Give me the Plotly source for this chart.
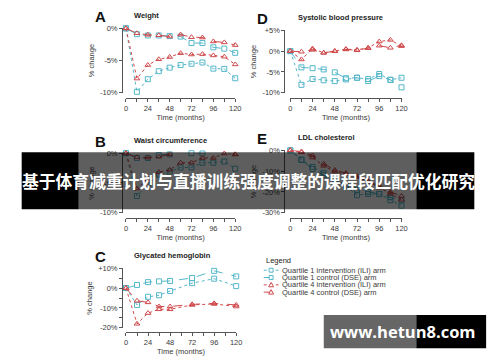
import plotly.graph_objects as go

W, H = 500, 362

# ---------------- data ----------------
months = [0, 12, 24, 36, 48, 60, 72, 84, 96, 108, 120]
months_c = [0, 12, 24, 36, 48, 72, 96, 120]

# A: Weight
w_q1_ili = [0, -9.85, -7.9, -6.65, -6.1, -5.7, -5.5, -5.3, -6.25, -6.3, -7.75]
w_q1_dse = [0, -0.9, -1.1, -1.1, -1.2, -1.27, -2.28, -2.28, -2.94, -3.15, -3.8]
w_q4_ili = [0, -7.8, -5.7, -4.8, -4.45, -3.86, -4.06, -4.0, -4.2, -4.4, -5.6]
w_q4_dse = [0, -0.76, -1.0, -1.07, -1.27, -0.96, -1.37, -1.42, -2.03, -2.18, -2.6]

# B: Waist circumference
b_q1_ili = [0, -7.2, -5.3, -3.6, -3.1, -2.4, -2.4, -1.6, -1.6, -1.4, -2.6]
b_q1_dse = [0, -0.8, -0.8, -0.3, -0.2, 0.1, 0.0, -0.05, 0.05, 0.4, 0.65]
b_q4_ili = [0, -5.95, -4.4, -3.2, -2.8, -1.6, -1.6, -0.8, -0.8, -0.05, -0.2]
b_q4_dse = [0, -0.7, -0.75, -0.6, -0.2, 0.55, 0.2, 0.9, 0.45, 0.9, -0.2]

# C: Glycated hemoglobin
c_q1_ili = [0, -8.5, -4.4, -3.6, -1.5, 2.5, 4.75, 1.0]
c_q1_dse = [0, 1.6, 3.0, 3.4, 3.6, 5.1, 8.7, 5.9]
c_q4_ili = [0, -18.0, -12.6, -10.7, -10.7, -8.5, -8.0, -9.3]
c_q4_dse = [0, -6.4, -7.2, -9.3, -9.3, -8.2, -7.7, -8.5]

# D: Systolic blood pressure
d_q1_ili = [0, -8.1, -6.7, -7.0, -7.2, -6.8, -6.4, -6.7, -5.5, -6.9, -6.4]
d_q1_dse = [0, -3.9, -4.1, -4.4, -5.1, -6.5, -6.4, -7.2, -6.0, -6.9, -8.7]
d_q4_ili = [0, -2.0, 0.6, -0.4, 0.0, 0.5, 0.3, 0.8, 2.3, 2.7, 1.2]
d_q4_dse = [0, -0.15, 0.3, -0.4, 0.0, 0.4, 0.2, 0.7, 1.3, 0.8, 1.4]

# E: LDL cholesterol
e_q1_ili = [0, -4.5, -8.0, -11.0, -13.5, -17.0, -21.6, -21.0, -21.1, -24.0, -26.6]
e_q1_dse = [0, -4.7, -9.0, -12.0, -14.0, -17.0, -19.0, -20.0, -21.0, -22.5, -24.0]
e_q4_ili = [0, -1.0, -3.5, -7.5, -10.3, -11.5, -12.8, -15.0, -18.0, -21.0, -23.8]
e_q4_dse = [0, -0.6, -2.5, -6.5, -9.5, -11.0, -12.5, -15.0, -17.0, -20.0, -22.0]

x_tickvals = [0, 12, 24, 36, 48, 60, 72, 84, 96, 108, 120]
x_ticktext = ["0", "", "24", "", "48", "", "72", "", "96", "", "120"]

series_names = ["Quartile 1 intervention (ILI) arm", "Quartile 1 control (DSE) arm",
                "Quartile 4 intervention (ILI) arm", "Quartile 4 control (DSE) arm"]

CYAN = "#55b7c9"
RED = "#d0494c"
FONT = "Liberation Sans, Arial, sans-serif"
TXT = "#3a3a3a"

def px(x):
    return x / W

def py(y):
    return 1 - y / H

panels = [
    dict(title="Weight", letter="A", xd=(126, 237), yd=(25, 91), yr=(-10, 0), xl=96, yl=122,
         tv=[0, -5, -10], tt=["0%", "-5%", "-10%"], x=months,
         s=[w_q1_ili, w_q1_dse, w_q4_ili, w_q4_dse], tx=132, dim=False),
    dict(title="Systolic blood pressure", letter="D", xd=(293, 406), yd=(27, 91), yr=(-10, 5), xl=96, yl=287,
         tv=[5, 0, -5, -10], tt=["+5%", "0%", "-5%", "-10%"], x=months,
         s=[d_q1_ili, d_q1_dse, d_q4_ili, d_q4_dse], tx=299, dim=False),
    dict(title="Waist circumference", letter="B", xd=(126, 237), yd=(153, 214), yr=(-10, 0), xl=219, yl=122,
         tv=[0, -5, -10], tt=["0%", "-5%", "-10%"], x=months,
         s=[b_q1_ili, b_q1_dse, b_q4_ili, b_q4_dse], tx=132, dim=True),
    dict(title="LDL cholesterol", letter="E", xd=(293, 406), yd=(150, 214), yr=(-30, 0), xl=219, yl=287,
         tv=[0, -10, -20, -30], tt=["0%", "-10%", "-20%", "-30%"], x=months,
         s=[e_q1_ili, e_q1_dse, e_q4_ili, e_q4_dse], tx=299, dim=True),
    dict(title="Glycated hemoglobin", letter="C", xd=(126, 238), yd=(271, 332), yr=(-20, 10), xl=336, yl=122,
         tv=[10, 5, 0, -5, -10, -15, -20], tt=["+10%", "", "0%", "", "-10%", "", "-20%"], x=months_c,
         s=[c_q1_ili, c_q1_dse, c_q4_ili, c_q4_dse], tx=132, dim=False),
]

styles = [
    dict(color=CYAN, dash="dot", symbol="square-open"),
    dict(color=CYAN, dash="dash", symbol="square-open"),
    dict(color=RED, dash="dot", symbol="triangle-up-open"),
    dict(color=RED, dash="dash", symbol="triangle-up-open"),
]

fig = go.Figure()
layout = dict(
    width=W, height=H, margin=dict(l=0, r=0, t=0, b=0),
    paper_bgcolor="white", plot_bgcolor="rgba(0,0,0,0)",
    showlegend=False, font=dict(family=FONT, size=7.5, color=TXT),
)
annotations = []
shapes = []

for i, p in enumerate(panels):
    n = "" if i == 0 else str(i + 1)
    xa, ya = "x" + n, "y" + n
    for k, ser in enumerate(p["s"]):
        st = styles[k]
        fig.add_trace(go.Scatter(
            x=p["x"], y=ser, xaxis=xa, yaxis=ya, mode="lines+markers",
            name=series_names[k], cliponaxis=False,
            line=dict(color=st["color"], width=1, dash=st["dash"]),
            marker=dict(symbol=st["symbol"], size=5, color=st["color"],
                        line=dict(width=1, color=st["color"])),
        ))
    layout["xaxis" + n] = dict(
        domain=[px(p["xd"][0]), px(p["xd"][1])], range=[0, 120], anchor="free",
        position=py(p["xl"]), showline=True, linecolor="#555", linewidth=1,
        ticks="outside", ticklen=3, tickcolor="#555", showgrid=False, zeroline=False,
        tickvals=x_tickvals, ticktext=x_ticktext, tickfont=dict(size=7.5, color=TXT),
        title=dict(text="Time (months)", font=dict(size=7.5, color=TXT), standoff=1),
        fixedrange=True,
    )
    layout["yaxis" + n] = dict(
        domain=[py(p["yd"][1]), py(p["yd"][0])], range=list(p["yr"]), anchor="free",
        position=px(p["yl"]), showline=True, linecolor="#555", linewidth=1,
        ticks="outside", ticklen=3, tickcolor="#555", showgrid=False, zeroline=False,
        tickvals=p["tv"], ticktext=p["tt"], tickfont=dict(size=7.5, color=TXT),
        title=dict(text="% change", font=dict(size=7.5, color="#191919" if p["dim"] else TXT), standoff=3),
        fixedrange=True,
    )
    ytitle = p["yd"][0] - 13
    annotations.append(dict(x=px(p["tx"]), y=py(ytitle), xref="paper", yref="paper",
                            text=p["title"], showarrow=False, xanchor="left", yanchor="middle",
                            font=dict(size=7.5, color="#222", family=FONT, weight="bold")))
    annotations.append(dict(x=px(p["yl"] - 30), y=py(ytitle + 1), xref="paper", yref="paper",
                            text=p["letter"], showarrow=False, xanchor="left", yanchor="middle",
                            font=dict(size=15, color="#111", family=FONT, weight="bold")))

# ---------------- legend (drawn) ----------------
annotations.append(dict(x=px(266), y=py(263), xref="paper", yref="paper", text="Legend",
                        showarrow=False, xanchor="left", yanchor="middle",
                        font=dict(size=7.5, color="#222", family=FONT)))
rows_y = [273, 280.5, 288, 295.5]
for k, yy in enumerate(rows_y):
    st = styles[k]
    shapes.append(dict(type="line", xref="paper", yref="paper", x0=px(266), x1=px(281),
                       y0=py(yy), y1=py(yy), line=dict(color=st["color"], width=1, dash=st["dash"])))
    cx = 273.5
    if "square" in st["symbol"]:
        path = f"M {px(cx-2)} {py(yy-2)} L {px(cx+2)} {py(yy-2)} L {px(cx+2)} {py(yy+2)} L {px(cx-2)} {py(yy+2)} Z"
    else:
        path = f"M {px(cx-2.5)} {py(yy+2)} L {px(cx+2.5)} {py(yy+2)} L {px(cx)} {py(yy-2.5)} Z"
    shapes.append(dict(type="path", xref="paper", yref="paper", path=path,
                       fillcolor="white", line=dict(color=st["color"], width=1)))
    annotations.append(dict(x=px(283), y=py(yy), xref="paper", yref="paper", text=series_names[k],
                            showarrow=False, xanchor="left", yanchor="middle",
                            font=dict(size=7.5, color=TXT, family=FONT)))

# ---------------- banner overlay ----------------
shapes.append(dict(type="rect", xref="paper", yref="paper", layer="above",
                   x0=px(20), x1=px(78), y0=py(210.5), y1=py(152), fillcolor="black", line=dict(width=0)))
shapes.append(dict(type="rect", xref="paper", yref="paper", layer="above",
                   x0=px(421), x1=px(480), y0=py(210.5), y1=py(152), fillcolor="black", line=dict(width=0)))
shapes.append(dict(type="rect", xref="paper", yref="paper", layer="above",
                   x0=px(78), x1=px(421), y0=py(210.5), y1=py(152), fillcolor="rgba(0,0,0,0.63)",
                   line=dict(width=0)))
annotations.append(dict(x=px(250), y=py(182), xref="paper", yref="paper",
                        text="基于体育减重计划与直播训练强度调整的课程段匹配优化研究",
                        showarrow=False, xanchor="center", yanchor="middle",
                        font=dict(size=16.8, color="white", family="Noto Sans CJK SC", weight="bold")))

# ---------------- watermark ----------------
shapes.append(dict(type="rect", xref="paper", yref="paper", layer="above",
                   x0=px(327), x1=px(421), y0=py(353), y1=py(319), fillcolor="rgba(0,0,0,0.6)",
                   line=dict(width=0)))
shapes.append(dict(type="rect", xref="paper", yref="paper", layer="above",
                   x0=px(421), x1=px(492), y0=py(353), y1=py(319), fillcolor="black",
                   line=dict(width=0)))
annotations.append(dict(x=px(408), y=py(336), xref="paper", yref="paper", text="www.hetun8.com",
                        showarrow=False, xanchor="center", yanchor="middle",
                        font=dict(size=16.5, color="white", family="Open Sans", weight="bold")))

layout["annotations"] = annotations
layout["shapes"] = shapes
fig.update_layout(**layout)
fig.write_html("out.html", config=dict(displayModeBar=False, staticPlot=True),
               post_script="document.body.style.margin='0';document.body.style.padding='0';")
